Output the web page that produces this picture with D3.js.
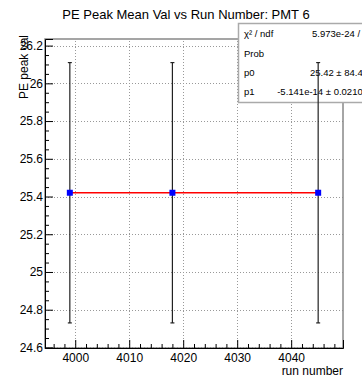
<!DOCTYPE html>
<html>
<head>
<meta charset="utf-8">
<script src="https://cdn.jsdelivr.net/npm/d3@7"></script>
<style>
  body { margin: 0; background: #fff; }
  svg { display: block; font-family: "Liberation Sans", Arial, sans-serif; }
</style>
</head>
<body>
<div id="chart"></div>
<script>
// data
const runs = [3999, 4018, 4045];
const peakMeans = [25.42, 25.42, 25.42];
const peakErrors = [0.69, 0.69, 0.69];
const fitValues = [25.42, 25.42];   // pol1 fit at first / last run
const xTicks = [4000, 4010, 4020, 4030, 4040];
const yTicks = [24.6, 24.8, 25, 25.2, 25.4, 25.6, 25.8, 26, 26.2];
const statLabels = ['χ² / ndf', 'Prob', 'p0', 'p1'];
const statValues = ['5.973e-24 / 1', '1', '25.42 ± 84.49', '-5.141e-14 ± 0.02104'];

const W = 362, H = 377;
const margin = { top: 39, right: 19, bottom: 29, left: 45 };

const svg = d3.select('#chart').append('svg')
    .attr('width', W)
    .attr('height', H);

const x = d3.scaleLinear()
    .domain([3994.4, 4049.6])
    .range([margin.left, W - margin.right]);

const y = d3.scaleLinear()
    .domain([24.597, 26.235])
    .range([H - margin.bottom, margin.top]);

const x0 = margin.left, x1 = W - margin.right;
const y0 = H - margin.bottom, y1 = margin.top;

// title
svg.append('text')
    .attr('x', 186)
    .attr('y', 19)
    .attr('text-anchor', 'middle')
    .attr('font-size', 13)
    .attr('fill', '#000')
    .text('PE Peak Mean Val vs Run Number: PMT 6');

// grid
const grid = svg.append('g')
    .attr('stroke', '#999')
    .attr('stroke-width', 1)
    .attr('stroke-dasharray', '1,2');

grid.selectAll('.gx')
    .data(xTicks)
    .enter().append('line')
    .attr('x1', d => Math.round(x(d)) + 0.5)
    .attr('x2', d => Math.round(x(d)) + 0.5)
    .attr('y1', y0)
    .attr('y2', y1);

grid.selectAll('.gy')
    .data(yTicks)
    .enter().append('line')
    .attr('x1', x0)
    .attr('x2', x1)
    .attr('y1', d => Math.round(y(d)) + 0.5)
    .attr('y2', d => Math.round(y(d)) + 0.5);

// frame
svg.append('rect')
    .attr('x', x0)
    .attr('y', y1)
    .attr('width', x1 - x0)
    .attr('height', y0 - y1)
    .attr('fill', 'none')
    .attr('stroke', '#888')
    .attr('stroke-width', 1.5);

// axes (ticks inside the frame)
const xMinor = d3.range(3996, 4050, 2).filter(d => d % 10 !== 0);
const yMinor = d3.range(24.6, 26.24, 0.05).filter(d => Math.abs(d * 5 - Math.round(d * 5)) > 1e-6);

const axisX = svg.append('g')
    .attr('transform', `translate(0,${y0})`)
    .call(d3.axisBottom(x).tickValues(xTicks).tickSize(-8).tickFormat(d3.format('d')));
axisX.select('.domain').attr('stroke', '#000');
axisX.selectAll('text')
    .attr('y', 5)
    .attr('font-size', 12)
    .attr('font-family', '"Liberation Sans", Arial, sans-serif');

svg.append('g')
    .attr('transform', `translate(0,${y0})`)
    .call(d3.axisBottom(x).tickValues(xMinor).tickSize(-4).tickFormat(''))
    .select('.domain').remove();

const axisY = svg.append('g')
    .attr('transform', `translate(${x0},0)`)
    .call(d3.axisLeft(y).tickValues(yTicks).tickSize(-8).tickFormat(d3.format('')));
axisY.select('.domain').attr('stroke', '#000');
axisY.selectAll('text')
    .attr('x', -2)
    .attr('font-size', 12)
    .attr('font-family', '"Liberation Sans", Arial, sans-serif');

svg.append('g')
    .attr('transform', `translate(${x0},0)`)
    .call(d3.axisLeft(y).tickValues(yMinor).tickSize(-4).tickFormat(''))
    .select('.domain').remove();

// axis titles
svg.append('text')
    .attr('x', x1)
    .attr('y', 375)
    .attr('text-anchor', 'end')
    .attr('font-size', 12)
    .text('run number');

svg.append('text')
    .attr('transform', `translate(28,35) rotate(-90)`)
    .attr('text-anchor', 'end')
    .attr('font-size', 12)
    .text('PE peak val');

// fit line
svg.append('line')
    .attr('x1', x(runs[0]))
    .attr('x2', x(runs[runs.length - 1]))
    .attr('y1', y(fitValues[0]))
    .attr('y2', y(fitValues[1]))
    .attr('stroke', '#ff0000')
    .attr('stroke-width', 1.5);

// stats box
const box = svg.append('g');
box.append('rect')
    .attr('x', 238.5)
    .attr('y', 23.5)
    .attr('width', 140)
    .attr('height', 79)
    .attr('fill', '#fff')
    .attr('stroke', '#aaa')
    .attr('stroke-width', 1.5);

const rowY = d3.scalePoint()
    .domain(statLabels)
    .range([34, 92]);

box.selectAll('.lab')
    .data(statLabels)
    .enter().append('text')
    .attr('x', 244)
    .attr('y', d => rowY(d))
    .attr('dy', '0.35em')
    .attr('font-size', 9.5)
    .text(d => d);

box.selectAll('.val')
    .data(statValues)
    .enter().append('text')
    .attr('x', 368)
    .attr('y', (d, i) => rowY(statLabels[i]))
    .attr('dy', '0.35em')
    .attr('text-anchor', 'end')
    .attr('font-size', 9.5)
    .text(d => d);

// error bars + markers
const pts = runs.map((r, i) => ({ run: r, val: peakMeans[i], err: peakErrors[i] }));
const eb = svg.append('g')
    .attr('stroke', '#222')
    .attr('stroke-width', 1.2);

eb.selectAll('.bar')
    .data(pts)
    .enter().append('line')
    .attr('x1', d => x(d.run))
    .attr('x2', d => x(d.run))
    .attr('y1', d => y(d.val - d.err))
    .attr('y2', d => y(d.val + d.err));

eb.selectAll('.capTop')
    .data(pts)
    .enter().append('line')
    .attr('x1', d => x(d.run) - 2)
    .attr('x2', d => x(d.run) + 2)
    .attr('y1', d => y(d.val + d.err))
    .attr('y2', d => y(d.val + d.err));

eb.selectAll('.capBot')
    .data(pts)
    .enter().append('line')
    .attr('x1', d => x(d.run) - 2)
    .attr('x2', d => x(d.run) + 2)
    .attr('y1', d => y(d.val - d.err))
    .attr('y2', d => y(d.val - d.err));

svg.selectAll('.marker')
    .data(pts)
    .enter().append('rect')
    .attr('x', d => x(d.run) - 3)
    .attr('y', d => y(d.val) - 3)
    .attr('width', 6)
    .attr('height', 6)
    .attr('fill', '#0000ff');
</script>
</body>
</html>
